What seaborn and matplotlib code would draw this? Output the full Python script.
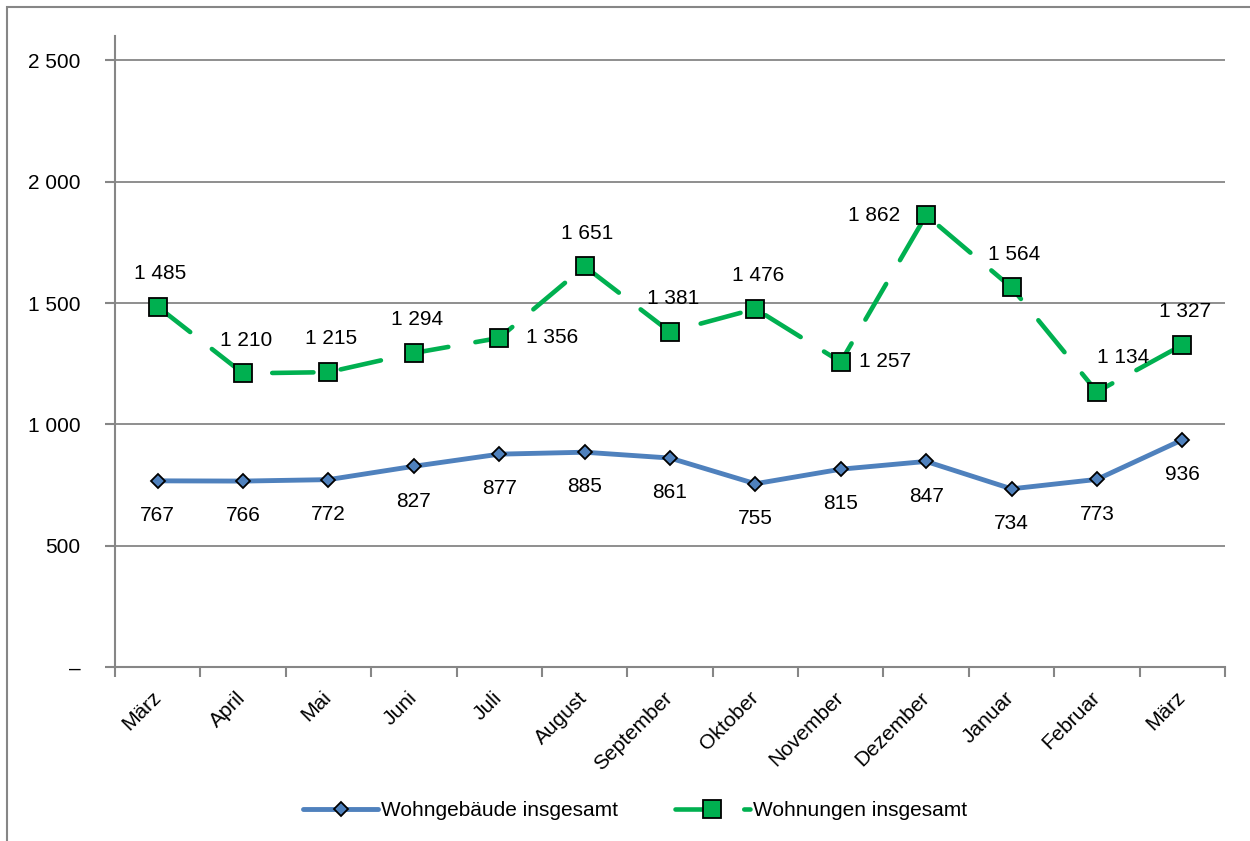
import matplotlib
matplotlib.use('Agg')
import matplotlib.pyplot as plt
import seaborn as sns
import pandas as pd
from matplotlib.patches import Rectangle
from matplotlib.ticker import FixedLocator, FuncFormatter

months = ['März', 'April', 'Mai', 'Juni', 'Juli', 'August', 'September',
          'Oktober', 'November', 'Dezember', 'Januar', 'Februar', 'März']
wohngebaeude = [767, 766, 772, 827, 877, 885, 861, 755, 815, 847, 734, 773, 936]
wohnungen = [1485, 1210, 1215, 1294, 1356, 1651, 1381, 1476, 1257, 1862, 1564, 1134, 1327]
y_ticks = [0, 500, 1000, 1500, 2000, 2500]

df = pd.DataFrame({'pos': range(len(months)), 'month': months,
                   'geb': wohngebaeude, 'whg': wohnungen})

sns.set_style('white')
plt.rcParams['font.family'] = ['Liberation Sans', 'DejaVu Sans']
plt.rcParams['text.color'] = 'black'
plt.rcParams['xtick.labelcolor'] = 'black'
plt.rcParams['ytick.labelcolor'] = 'black'

fig = plt.figure(figsize=(12.5, 8.41), dpi=100)
ax = fig.add_axes([0.092, 0.207, 0.888, 0.750])

grey = '#868686'
blue = '#4F81BD'
green = '#00B050'

# frame around whole chart
fig.patches.append(Rectangle((7 / 1250, -0.05), 1.2, 1 - 7 / 841 + 0.05,
                             transform=fig.transFigure, fill=False,
                             edgecolor=grey, linewidth=1.5))

for y in y_ticks[1:]:
    ax.axhline(y, color=grey, linewidth=1.3, zorder=0)

sns.lineplot(data=df, x='pos', y='geb', ax=ax, color=blue, linewidth=3.5,
             marker='D', markersize=7.5, markerfacecolor=blue,
             markeredgecolor='black', markeredgewidth=1.3,
             label='Wohngebäude insgesamt', sort=False, zorder=3)
sns.lineplot(data=df, x='pos', y='whg', ax=ax, color=green, linewidth=3.3,
             marker='s', markersize=13.5, markerfacecolor=green,
             markeredgecolor='black', markeredgewidth=1.3,
             dashes=(9, 6), label='Wohnungen insgesamt', sort=False, zorder=3)
for line in ax.get_lines()[-2:]:
    line.set_dash_capstyle('round')
    line.set_solid_capstyle('round')

def fmt(v):
    return f'{v:,}'.replace(',', ' ')

fs = 15
# label placement for Wohnungen: offset in points
green_off = {4: (19, 0, 'left', 'center'), 8: (13, 0, 'left', 'center'),
             9: (-19, 0, 'right', 'center'), 11: (19, 25, 'center', 'center')}
for i, v in enumerate(wohnungen):
    dx, dy, ha, va = green_off.get(i, (2, 24, 'center', 'center'))
    ax.annotate(fmt(v), (i, v), xytext=(dx, dy), textcoords='offset points',
                ha=ha, va=va, fontsize=fs)
for i, v in enumerate(wohngebaeude):
    ax.annotate(fmt(v), (i, v), xytext=(0, -25), textcoords='offset points',
                ha='center', va='center', fontsize=fs)

ax.set_xlim(-0.5, len(months) - 0.5)
ax.set_ylim(0, 2600)
ax.set_yticks(y_ticks)
ax.yaxis.set_major_formatter(FuncFormatter(lambda v, p: '–' if v == 0 else fmt(int(v))))
ax.set_xticks(range(len(months)))
ax.set_xticklabels(months, rotation=45, ha='right', va='center',
                   rotation_mode='anchor')
ax.xaxis.set_minor_locator(FixedLocator([i - 0.5 for i in range(len(months) + 1)]))
ax.tick_params(axis='x', which='major', length=0, pad=20, labelsize=fs)
ax.tick_params(axis='x', which='minor', length=7, width=1.5, color=grey, direction='out')
ax.tick_params(axis='y', length=7, width=1.5, color=grey, direction='out', labelsize=fs, pad=18)
ax.tick_params(bottom=True, left=True, which='both')
ax.set_xlabel('')
ax.set_ylabel('')

sns.despine(ax=ax)
for s in ['left', 'bottom']:
    ax.spines[s].set_color(grey)
    ax.spines[s].set_linewidth(1.5)

ax.legend(loc='center', bbox_to_anchor=(0.4685, -0.228), ncol=2, frameon=False,
          fontsize=fs, handlelength=3.6, columnspacing=2.7, handletextpad=0.15)

fig.savefig('out.png', dpi=100)
